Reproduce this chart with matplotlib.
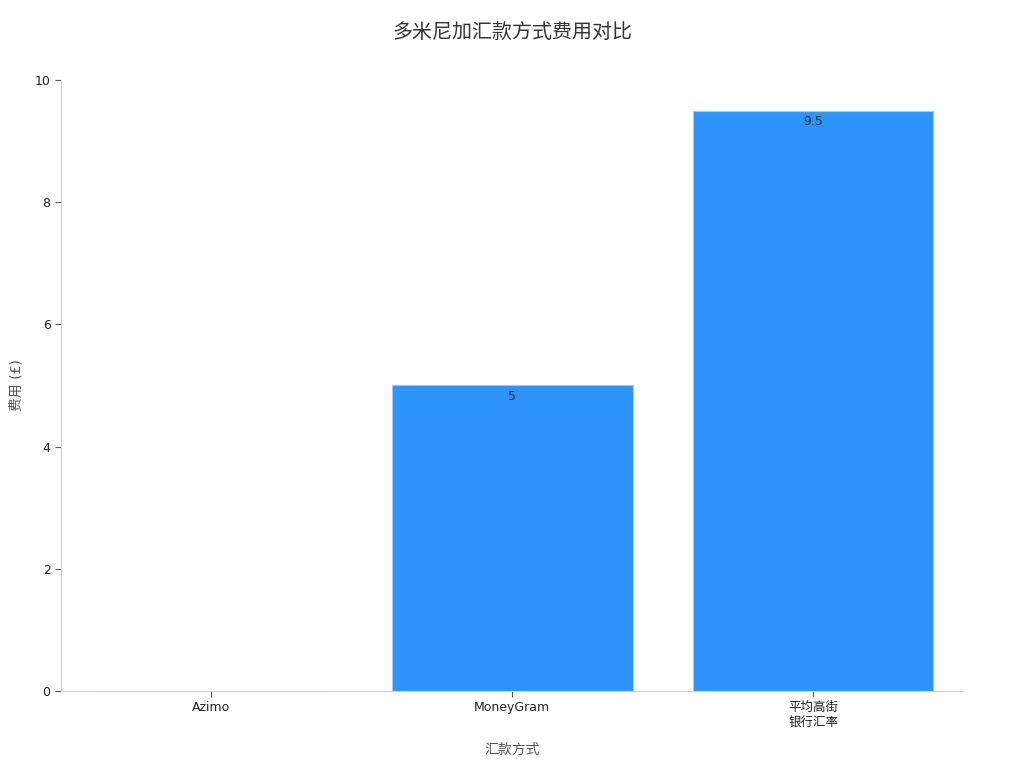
import matplotlib
matplotlib.use("Agg")
import matplotlib.pyplot as plt

plt.rcParams['font.family'] = ['DejaVu Sans', 'Noto Sans CJK SC']

# data
methods = ['Azimo', 'MoneyGram', '平均高街\n银行汇率']
fees = [0, 5, 9.5]

fig, ax = plt.subplots(figsize=(10.24, 7.68), dpi=100)
fig.subplots_adjust(left=0.0596, right=0.9409, top=0.8958, bottom=0.1003)

x = range(len(methods))
bars = ax.bar(x, fees, width=0.8, color='#2E93FA', edgecolor='#9cc9f5', linewidth=0.8)

for b, v in zip(bars, fees):
    if v > 0:
        ax.text(b.get_x() + b.get_width() / 2, v - 0.08, f'{v:g}',
                ha='center', va='top', fontsize=9, color='#333333')

ax.set_xlim(-0.5, 2.5)
ax.set_ylim(0, 10)
ax.set_xticks(list(x))
ax.set_xticklabels(methods, fontsize=9, color='#222222')
ax.set_yticks([0, 2, 4, 6, 8, 10])
ax.tick_params(axis='y', labelsize=9, labelcolor='#222222', color='#555555', length=4)
ax.tick_params(axis='x', color='#555555', length=4)

for s in ['top', 'right']:
    ax.spines[s].set_visible(False)
for s in ['left', 'bottom']:
    ax.spines[s].set_color('#d0d0d0')

ax.set_xlabel('汇款方式', fontsize=10, color='#555555', labelpad=10)
ax.set_ylabel('费用 (£)', fontsize=10, color='#555555', labelpad=8)
fig.suptitle('多米尼加汇款方式费用对比', fontsize=14.4, color='#333333', y=0.97)

plt.savefig('out.png', dpi=100)
